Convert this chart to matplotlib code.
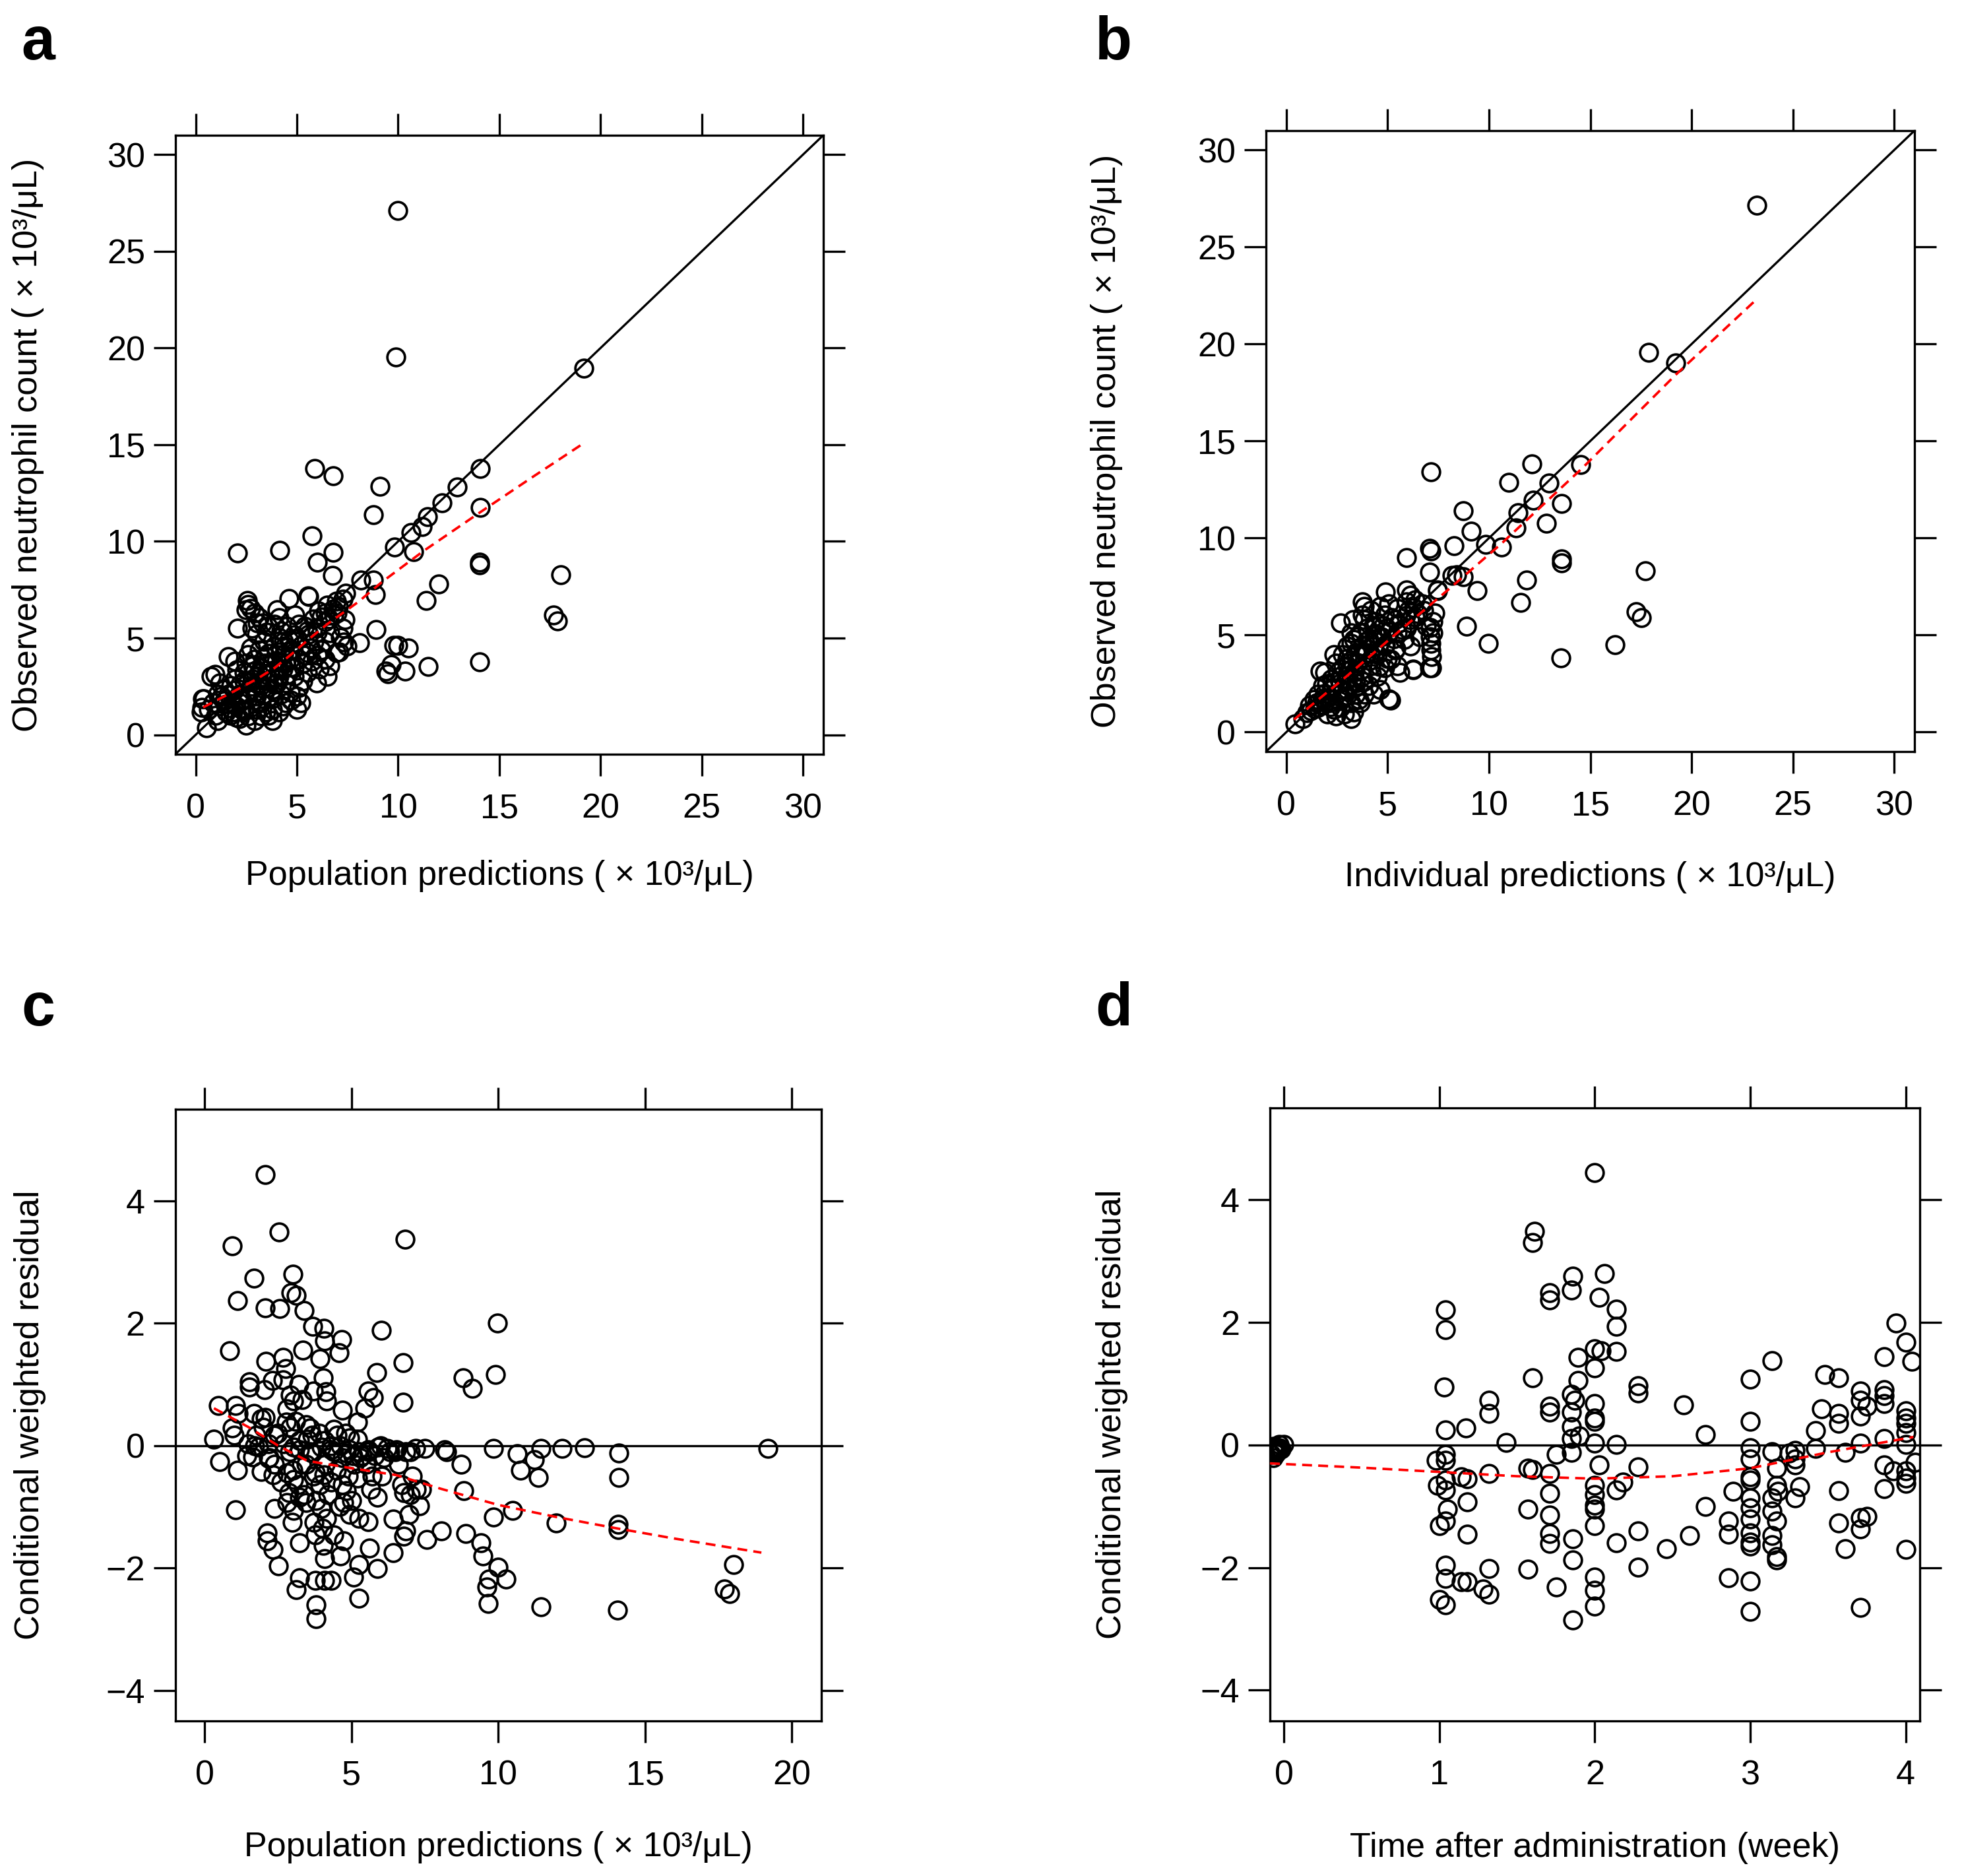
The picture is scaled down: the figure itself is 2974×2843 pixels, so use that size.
import matplotlib.pyplot as plt

plt.rcParams['font.family'] = ['Liberation Sans', 'DejaVu Sans']

# ---- data ----------------------------------------------------------------
# panel a: population predictions vs observed
a_pred = [9.99, 9.89, 19.17, 5.88, 6.80, 9.09, 14.07, 12.93, 12.18, 11.44,
          11.19, 10.64, 8.78, 14.07, 9.83, 10.76, 5.75, 2.07, 4.14, 6.80,
          6.00, 6.77, 14.04, 14.04, 18.03, 8.16, 8.78, 8.87, 12.00, 11.38,
          17.69, 17.87, 8.91, 8.10, 9.80, 9.99, 10.51, 9.65, 9.40, 9.49,
          10.33, 11.47, 14.04, 7.42, 7.27, 5.57, 4.61, 2.54, 2.07, 0.53,
          0.28, 0.34,
          2.60, 2.49, 2.71, 2.92, 3.14, 3.03, 3.30, 3.58, 4.01, 4.12,
          3.90, 4.23, 5.59, 6.08, 6.51, 6.95, 7.05, 6.84, 7.38, 7.27,
          7.16, 7.49, 6.95, 6.62, 6.51, 5.97, 5.53, 5.21, 4.99, 5.53,
          5.10, 4.88, 5.86, 6.19, 5.75, 5.32, 4.66, 4.34, 4.12, 3.90,
          3.36, 3.14, 2.71, 2.60, 2.92, 3.47, 3.79, 4.12, 4.45, 4.55,
          4.88, 5.10, 4.66, 4.45, 4.12, 3.79, 3.25, 2.92, 2.49, 2.16,
          1.84, 2.27, 2.71, 3.25, 3.79, 2.16, 1.73, 1.62, 1.95, 2.05,
          2.38, 2.38, 2.82, 3.14, 3.47, 3.58, 4.01, 4.23, 3.79, 3.36,
          2.92, 2.60, 0.97, 0.75, 1.18, 1.40, 1.08, 0.86, 0.42, 0.32,
          0.64, 1.08, 1.51, 1.40, 4.34, 4.66, 4.88, 4.12, 4.45, 4.99,
          3.68, 3.25, 2.82, 2.49, 1.95, 1.62, 2.16, 3.03, 3.47, 3.79,
          2.60, 5.53, 5.97, 6.40, 6.62, 6.40,
          1.2, 1.5, 1.7, 2.0, 2.3, 2.5, 2.8, 3.0, 3.3, 3.5,
          3.7, 3.9, 4.0, 4.2, 4.4, 4.6, 4.8, 5.0, 5.2, 5.4,
          5.6, 5.8, 6.0, 6.2, 6.4, 6.6, 6.8, 7.0, 3.1, 3.4,
          3.6, 2.9, 2.2, 1.9, 2.6, 4.3, 4.7, 5.1, 5.4, 5.7,
          3.0, 2.8, 3.5, 4.5, 4.9, 1.0, 1.3, 2.0, 3.6, 4.3,
          4.7, 5.3, 6.1, 6.4, 7.1, 7.3, 6.0, 3.9, 2.4, 1.7]
a_obs = [27.11, 19.54, 18.97, 13.77, 13.40, 12.86, 13.77, 12.80, 11.98, 11.28,
         10.76, 10.46, 11.37, 11.76, 9.70, 9.48, 10.30, 9.39, 9.54, 9.45,
         8.94, 8.24, 8.94, 8.78, 8.27, 8.02, 8.02, 7.26, 7.81, 6.96,
         6.20, 5.90, 5.44, 4.77, 4.62, 4.62, 4.50, 3.62, 3.31, 3.16,
         3.31, 3.53, 3.77, 7.33, 7.02, 7.17, 7.05, 6.96, 5.50, 0.36,
         1.19, 1.85,
         6.75, 6.47, 6.53, 6.30, 6.07, 5.79, 5.79, 5.62, 6.47, 6.07,
         5.73, 5.39, 7.15, 6.41, 6.70, 6.92, 6.64, 6.19, 5.96, 5.51,
         5.05, 4.60, 4.26, 3.58, 3.01, 2.67, 3.24, 1.65, 1.31, 5.39,
         5.73, 5.16, 4.82, 4.37, 3.80, 3.69, 4.37, 4.82, 5.05, 4.60,
         4.82, 4.37, 4.48, 4.14, 3.92, 4.03, 3.69, 3.35, 3.69, 3.12,
         3.01, 2.44, 2.21, 1.65, 1.19, 0.74, 0.96, 0.74, 0.51, 0.85,
         1.19, 1.31, 1.42, 1.65, 1.87, 2.10, 2.55, 4.03, 3.80, 3.35,
         3.24, 2.78, 2.89, 2.67, 3.12, 2.44, 2.67, 2.10, 2.33, 2.10,
         2.21, 1.87, 3.12, 3.01, 2.67, 2.33, 2.10, 1.65, 1.87, 1.42,
         1.31, 0.74, 1.19, 1.76, 4.14, 3.92, 3.46, 3.01, 2.67, 1.99,
         3.24, 3.46, 3.58, 3.69, 2.89, 2.10, 1.65, 1.31, 1.19, 1.31,
         0.96, 4.26, 5.51, 5.85, 5.28, 4.82,
         1.5, 1.6, 1.4, 1.5, 1.8, 2.2, 2.5, 2.0, 2.4, 2.8,
         2.0, 3.0, 3.8, 4.3, 4.6, 4.9, 4.4, 5.0, 4.6, 5.6,
         5.2, 6.0, 5.3, 6.1, 6.3, 6.0, 6.5, 6.3, 3.2, 3.7,
         4.2, 3.3, 2.6, 2.3, 2.8, 3.4, 3.5, 3.9, 4.1, 4.5,
         5.2, 5.5, 5.3, 5.6, 6.2, 1.0, 2.0, 0.9, 1.0, 1.5,
         1.8, 2.8, 3.4, 3.9, 4.3, 4.8, 4.1, 2.6, 1.2, 1.0]
a_smooth_x = [0.37, 1.73, 3.03, 3.90, 4.77, 5.64, 6.51, 7.27, 8.03, 9.20, 11.25, 14.10, 16.60, 19.20]
a_smooth_y = [1.42, 2.16, 2.89, 3.46, 4.20, 4.99, 5.73, 6.30, 6.87, 7.90, 9.50, 11.54, 13.30, 15.10]

# panel b: individual predictions vs observed
b_ipred = [23.22, 17.88, 19.21, 14.52, 12.12, 7.12, 10.98, 12.95, 12.18, 13.57,
           8.73, 11.44, 11.35, 12.83, 9.13, 9.84, 10.61, 8.29, 7.06, 7.12,
           5.92, 13.57, 13.57, 17.73, 7.06, 8.17, 8.42, 8.73, 11.87, 7.46,
           9.40, 11.56, 17.27, 17.51, 8.88, 9.96, 16.22, 13.54, 7.06, 6.26,
           5.15, 7.10, 7.10,
           0.43, 0.82, 1.14, 1.36, 1.58, 1.68, 1.90, 2.23, 2.55, 2.34,
           2.66, 3.21, 3.32, 3.75, 3.86, 3.75, 3.86, 3.97, 4.18, 4.89,
           5.92, 6.14, 5.92, 6.36, 7.45, 7.34, 7.23, 7.23, 7.12, 7.12,
           7.17, 7.17, 6.25, 5.60, 5.49, 5.05, 4.62, 4.29, 4.08, 3.21,
           3.32, 2.66, 2.34, 2.12, 2.77, 3.21, 2.99, 3.42, 3.75, 2.99,
           3.53, 4.18, 4.51, 4.84, 5.16, 5.38, 4.84, 4.40, 3.97, 3.75,
           4.08, 4.51, 4.95, 5.38, 5.49, 5.92, 6.36, 6.79, 6.90, 6.58,
           6.14, 5.82, 2.66, 2.23, 1.79, 1.58, 2.01, 2.45, 2.88, 3.64,
           3.86, 3.42, 2.99, 3.32, 2.45, 2.77, 3.42, 2.99, 3.21, 3.64,
           4.40, 4.84, 4.62, 5.49, 5.05, 6.03,
           1.0, 1.2, 1.5, 1.7, 1.9, 2.1, 2.3, 2.5, 2.7, 2.9,
           3.1, 3.3, 3.5, 3.7, 3.9, 4.1, 4.3, 4.5, 4.7, 4.9,
           5.1, 5.3, 5.5, 5.7, 5.9, 6.1, 6.3, 6.5, 6.7, 2.0,
           2.4, 2.8, 3.2, 3.6, 4.0, 4.4, 4.8, 5.2, 2.6, 3.0,
           3.4, 3.8, 4.2, 4.6, 5.0, 5.4, 1.4, 1.8, 2.2, 2.8,
           3.6, 3.0, 3.5, 4.3, 3.3]
b_obs = [27.15, 19.56, 19.01, 13.79, 13.82, 13.42, 12.88, 12.82, 11.96, 11.78,
         11.42, 11.30, 10.51, 10.75, 10.36, 9.69, 9.54, 9.60, 9.47, 9.32,
         8.99, 8.93, 8.72, 8.32, 8.26, 8.08, 8.11, 8.02, 7.83, 7.32,
         7.29, 6.68, 6.19, 5.89, 5.47, 4.59, 4.52, 3.83, 3.31, 3.25,
         1.64, 4.90, 5.40,
         0.42, 0.70, 1.38, 1.67, 1.95, 3.14, 3.09, 2.75, 3.09, 4.00,
         5.64, 4.56, 4.79, 6.72, 6.49, 6.04, 5.81, 5.36, 6.27, 7.23,
         7.34, 7.06, 6.72, 6.83, 7.29, 6.15, 5.70, 5.13, 4.56, 4.22,
         3.88, 3.31, 3.20, 3.09, 3.43, 1.73, 2.18, 1.95, 2.41, 0.70,
         1.04, 1.27, 1.16, 1.50, 1.73, 1.50, 2.18, 2.52, 2.86, 3.43,
         3.54, 3.43, 2.86, 3.31, 3.77, 4.22, 4.45, 4.11, 4.11, 4.45,
         4.79, 5.02, 5.36, 5.81, 5.13, 5.36, 5.93, 6.27, 5.47, 4.90,
         4.45, 4.79, 2.52, 2.18, 1.73, 1.27, 0.93, 0.82, 0.93, 1.50,
         1.95, 1.95, 2.75, 3.09, 3.54, 4.00, 4.11, 4.45, 5.13, 5.13,
         5.70, 6.04, 6.49, 6.38, 6.61, 6.27,
         1.0, 1.1, 1.5, 1.4, 2.0, 1.8, 2.3, 2.0, 2.9, 2.6,
         3.2, 2.8, 3.6, 3.2, 4.0, 3.7, 4.4, 4.0, 4.9, 4.5,
         5.2, 4.8, 5.6, 5.3, 6.0, 5.8, 6.4, 6.1, 6.6, 2.5,
         2.6, 3.4, 3.7, 4.1, 4.7, 5.1, 5.5, 5.9, 1.6, 1.9,
         2.3, 2.6, 3.0, 3.4, 3.8, 4.3, 1.2, 2.4, 1.3, 2.2,
         1.7, 3.8, 4.9, 5.5, 5.8]
b_smooth_x = [0.38, 3.0, 5.0, 8.0, 10.6, 14.6, 19.2, 23.13]
b_smooth_y = [0.65, 2.9, 4.7, 7.35, 9.7, 13.6, 18.4, 22.23]

# panel c: population predictions vs CWRES
c_pred = [2.07, 2.53, 6.82, 0.94, 1.68, 3.00, 2.94, 3.11, 1.11, 2.07,
          2.56, 3.39, 3.68, 4.07, 6.01, 9.97, 4.09, 4.66, 4.58, 3.34,
          3.94, 0.85, 2.09, 2.66, 2.77, 6.77, 5.86, 9.90, 8.80, 9.12,
          4.05, 1.53, 1.53, 2.32, 2.68, 2.04, 3.71, 4.13, 5.58, 5.75,
          2.92, 3.32, 3.02, 4.15, 6.77, 5.45, 4.69, 0.47, 1.06, 1.15,
          1.68, 1.92, 2.07, 5.22, 2.79, 2.92, 0.94, 1.02, 3.45, 3.60,
          4.41, 2.70, 0.32, 1.49, 1.85,
          3.98, 4.30, 4.62, 4.94, 5.26, 5.58, 5.90, 6.22, 6.54, 6.86,
          7.18, 7.50, 8.18, 8.24, 9.84, 10.65, 11.46, 12.18, 12.93, 14.10,
          19.19, 3.66, 3.24, 5.05, 4.83, 5.37, 5.79,
          2.39, 3.24, 3.66, 4.09, 4.52, 4.94, 1.75, 2.17, 3.02,
          0.51, 1.13, 1.43, 1.64, 1.92, 2.17, 2.39, 2.34, 2.81, 3.02,
          3.45, 3.77, 4.07, 4.30, 4.69, 5.20, 6.05, 7.07, 6.71, 7.22,
          7.39, 6.79, 5.88, 5.67, 4.83, 3.92, 3.19, 2.88, 3.24, 3.45,
          2.81, 3.02, 3.98, 4.15, 4.73, 4.94, 6.96, 7.31, 8.82, 8.73,
          10.76, 11.22, 11.37, 14.10, 2.39, 1.06, 2.98, 3.73, 4.03, 5.26,
          5.58, 6.43, 6.84, 6.79, 9.84, 10.48, 11.97, 14.08, 14.08, 7.56,
          8.07, 8.90, 9.41, 9.48, 2.13, 2.13, 2.34, 2.51, 3.24, 3.77,
          4.05, 4.41, 4.73, 4.62, 4.09, 5.62, 6.43, 5.26, 5.88, 5.07,
          3.24, 3.77, 4.09, 4.30, 3.11, 5.26, 3.79, 3.79, 9.99, 10.27,
          9.67, 9.61, 9.65, 11.46, 14.06, 18.02, 17.70, 17.87,
          2.5, 2.9, 3.1, 3.3, 3.5, 3.7, 3.9, 4.1, 4.3, 4.5,
          4.7, 4.9, 5.1, 5.3, 5.5, 5.7, 6.1, 6.3, 6.6, 7.0,
          2.2, 2.6, 3.4, 3.8, 4.2, 4.6, 5.0, 3.0, 2.0, 1.7,
          4.8, 5.2, 5.6, 6.0, 6.5, 7.0, 4.4, 3.6, 2.8, 3.2]
c_cwres = [4.43, 3.49, 3.37, 3.27, 2.74, 2.80, 2.50, 2.46, 2.37, 2.25,
           2.24, 2.21, 1.95, 1.92, 1.88, 2.00, 1.71, 1.73, 1.52, 1.56,
           1.42, 1.55, 1.38, 1.44, 1.26, 1.36, 1.19, 1.16, 1.11, 0.93,
           1.11, 1.04, 0.96, 1.06, 1.07, 0.91, 0.89, 0.88, 0.89, 0.78,
           0.83, 0.75, 0.73, 0.73, 0.71, 0.61, 0.58, 0.65, 0.65, 0.52,
           0.52, 0.44, 0.46, 0.39, 0.39, 0.30, 0.29, 0.17, 0.34, 0.29,
           0.27, 0.03, 0.10, 0.03, -0.02,
           -0.02, -0.07, 0.00, -0.07, -0.10, -0.07, -0.02, -0.05, -0.07, -0.10,
           -0.05, -0.05, -0.07, -0.10, -0.05, -0.13, -0.05, -0.05, -0.04, -0.12,
           -0.05, -0.12, -0.07, -0.16, -0.12, -0.16, -0.16,
           0.17, 0.08, 0.17, 0.08, 0.17, 0.13, 0.17, 0.03, -0.02,
           -0.26, -0.40, -0.16, -0.19, -0.42, -0.21, -0.31, -0.48, -0.45, -0.55,
           -0.31, -0.45, -0.48, -0.60, -0.64, -0.53, -0.50, -0.50, -0.64, -0.71,
           -0.71, -0.77, -0.84, -0.71, -0.74, -0.64, -0.64, -0.77, -0.84, -0.93,
           -0.93, -1.06, -1.03, -1.19, -0.93, -1.13, -1.13, -0.98, -0.74, -0.31,
           -0.40, -0.23, -0.52, -0.52, -1.03, -1.05, -1.25, -1.25, -1.35, -1.19,
           -1.24, -1.20, -1.39, -1.48, -1.17, -1.06, -1.27, -1.29, -1.37, -1.54,
           -1.39, -1.44, -1.59, -1.80, -1.43, -1.56, -1.70, -1.97, -1.59, -1.46,
           -1.63, -1.46, -1.56, -1.80, -1.85, -1.68, -1.75, -1.94, -2.01, -2.15,
           -2.16, -2.20, -2.20, -2.20, -2.35, -2.50, -2.60, -2.83, -1.99, -2.18,
           -2.18, -2.31, -2.58, -2.63, -2.69, -1.94, -2.34, -2.42,
           0.2, -0.1, 0.4, -0.3, 0.1, -0.5, 0.2, -0.3, 0.0, -0.4,
           -0.2, -0.5, -0.3, -0.2, -0.3, -0.5, -0.2, -0.1, -0.3, -0.8,
           -0.2, -0.6, -0.8, -0.9, -0.8, -1.0, -0.9, -0.4, 0.3, 0.0,
           0.2, 0.1, -0.1, 0.0, -0.1, -0.1, -0.1, -0.1, 0.6, 1.0]
c_smooth_x = [0.32, 1.5, 2.5, 3.5, 5.0, 6.5, 8.0, 10.0, 12.0, 14.0, 16.0, 18.96]
c_smooth_y = [0.61, 0.30, 0.00, -0.25, -0.37, -0.48, -0.70, -0.97, -1.17, -1.35, -1.52, -1.75]

# panel d: time after administration vs CWRES
d_time = [-0.07, -0.06, -0.05, -0.04, -0.03, 0.00, -0.08, -0.07, -0.06, -0.05,
          -0.04, -0.03, -0.02, -0.07, -0.06,
          2.00, 1.61, 1.60, 1.86, 1.85, 2.06, 1.71, 1.71, 2.03, 2.14,
          2.14, 1.04, 1.04, 3.94, 4.00, 4.04, 2.00, 2.04, 2.14, 1.89,
          3.14, 3.86, 2.00, 3.48, 3.57, 1.60, 3.00, 1.89, 1.03, 2.28,
          2.28, 3.71, 3.71, 3.86, 3.86, 3.86, 1.85, 1.87, 1.85, 1.32,
          1.32, 2.00, 1.71, 1.71, 2.57, 3.46, 3.57, 3.57, 3.75, 3.71,
          4.00, 4.00, 4.00, 2.00, 2.00, 3.00, 1.04, 1.17, 1.85, 1.90,
          1.85, 2.71, 3.42, 3.86, 4.00, 1.43, 2.00, 2.14, 3.71, 4.00,
          3.00, 3.42, 3.14, 3.29, 3.25, 3.61, 1.85, 1.75, 1.04, 0.98,
          3.00, 3.29, 3.29, 4.06, 3.86, 1.57, 1.60, 2.03, 2.28, 3.17,
          3.92, 1.04, 1.71, 1.32, 3.00, 3.00, 1.14, 1.18, 1.04, 4.00,
          4.00, 4.00, 2.18, 0.99, 1.04, 3.17, 3.32, 2.00, 3.18, 2.14,
          3.57, 1.71, 2.89, 3.86, 2.00, 3.00, 3.14, 3.29, 1.18, 2.00,
          2.00, 3.00, 2.71, 1.57, 1.05, 3.14, 1.71, 3.71, 3.75, 3.00,
          3.17, 1.04, 3.57, 2.86, 1.00, 2.00, 3.71, 1.18, 1.71, 2.28,
          2.86, 3.00, 3.00, 2.61, 3.14, 3.14, 1.86, 3.00, 1.71, 2.14,
          2.46, 3.61, 4.00, 3.17, 3.17, 1.86, 1.04, 1.32, 1.57, 2.28,
          2.00, 1.04, 1.14, 1.18, 2.86, 3.00, 1.75, 2.00, 1.28, 1.32,
          1.00, 1.04, 2.00, 3.71, 3.00, 1.86]
d_cwres = [-0.02, -0.09, -0.14, -0.06, 0.01, 0.01, -0.15, -0.21, -0.12, -0.03,
           -0.10, -0.05, -0.07, -0.08, -0.04,
           4.44, 3.49, 3.30, 2.75, 2.53, 2.80, 2.48, 2.37, 2.41, 2.22,
           1.94, 2.20, 1.88, 1.99, 1.68, 1.36, 1.57, 1.54, 1.53, 1.43,
           1.38, 1.44, 1.26, 1.15, 1.10, 1.10, 1.07, 1.05, 0.94, 0.97,
           0.85, 0.88, 0.73, 0.90, 0.81, 0.68, 0.83, 0.73, 0.54, 0.73,
           0.51, 0.68, 0.63, 0.54, 0.65, 0.59, 0.51, 0.35, 0.63, 0.47,
           0.56, 0.44, 0.35, 0.44, 0.39, 0.38, 0.25, 0.28, 0.30, 0.15,
           0.11, 0.17, 0.23, 0.11, 0.20, 0.04, 0.03, 0.01, 0.03, 0.01,
           -0.04, -0.06, -0.11, -0.09, -0.13, -0.12, -0.12, -0.15, -0.15, -0.25,
           -0.23, -0.23, -0.33, -0.28, -0.33, -0.38, -0.40, -0.33, -0.36, -0.38,
           -0.42, -0.25, -0.47, -0.47, -0.52, -0.57, -0.52, -0.55, -0.57, -0.42,
           -0.54, -0.63, -0.60, -0.66, -0.73, -0.66, -0.68, -0.66, -0.76, -0.73,
           -0.74, -0.79, -0.76, -0.71, -0.81, -0.86, -0.86, -0.86, -0.93, -0.98,
           -1.05, -1.03, -1.00, -1.05, -1.05, -1.08, -1.14, -1.19, -1.16, -1.21,
           -1.24, -1.24, -1.27, -1.24, -1.31, -1.31, -1.37, -1.45, -1.44, -1.40,
           -1.45, -1.43, -1.58, -1.48, -1.48, -1.63, -1.53, -1.65, -1.61, -1.60,
           -1.69, -1.69, -1.70, -1.82, -1.87, -1.88, -1.96, -2.01, -2.03, -1.99,
           -2.15, -2.18, -2.23, -2.23, -2.17, -2.22, -2.32, -2.37, -2.35, -2.44,
           -2.52, -2.61, -2.63, -2.65, -2.71, -2.85]
d_smooth_x = [-0.09, 0.5, 1.0, 1.5, 2.0, 2.5, 3.0, 3.5, 4.05]
d_smooth_y = [-0.30, -0.37, -0.44, -0.51, -0.55, -0.51, -0.38, -0.12, 0.13]

UNIT = ' ( \u00d7 10\u00b3/\u03bcL)'

# ---- figure ---------------------------------------------------------------
fig = plt.figure(figsize=(2974 / 300, 2843 / 300), dpi=300)

LW = 0.8
FS = 12.5


def panel(rect, x, y, sx, sy, xlim, ylim, xticks, yticks, xlabel, ylabel,
          xl_off, yl_off, ref):
    ax = fig.add_axes(rect)
    if ref == 'diag':
        ax.plot(xlim, ylim, color='black', lw=LW, zorder=1)
    else:
        ax.axhline(0, color='black', lw=LW, zorder=1)
    ax.plot(x, y, 'o', mfc='none', mec='black', ms=6.4, mew=0.9, zorder=2)
    ax.plot(sx, sy, color='#ff0000', lw=0.9, dashes=(4.0, 2.5), zorder=3)
    ax.set_xlim(xlim)
    ax.set_ylim(ylim)
    ax.set_xticks(xticks)
    ax.set_yticks(yticks)
    ax.tick_params(direction='out', length=8, width=LW, top=True, right=True,
                   labelsize=FS, colors='black')
    ax.tick_params(axis='x', pad=6)
    ax.tick_params(axis='y', pad=3)
    for s in ax.spines.values():
        s.set_linewidth(LW)
    ax.text(0.5, xl_off, xlabel, transform=ax.transAxes, ha='center',
            va='center', fontsize=FS)
    ax.text(yl_off, 0.5, ylabel, transform=ax.transAxes, ha='center',
            va='center', rotation=90, fontsize=FS)
    return ax


obs_label = 'Observed neutrophil count' + UNIT
cw_label = 'Conditional weighted residual'
t30 = [0, 5, 10, 15, 20, 25, 30]

panel([0.0894, 0.5980, 0.3302, 0.3299], a_pred, a_obs, a_smooth_x, a_smooth_y,
      (-1, 31), (-1, 31), t30, t30, 'Population predictions' + UNIT, obs_label,
      -0.197, -0.227, 'diag')
panel([0.6453, 0.5994, 0.3305, 0.3310], b_ipred, b_obs, b_smooth_x, b_smooth_y,
      (-1, 31), (-1, 31), t30, t30, 'Individual predictions' + UNIT, obs_label,
      -0.203, -0.246, 'diag')
panel([0.0893, 0.0827, 0.3293, 0.3261], c_pred, c_cwres, c_smooth_x, c_smooth_y,
      (-1, 21), (-4.5, 5.5), [0, 5, 10, 15, 20], [-4, -2, 0, 2, 4],
      'Population predictions' + UNIT, cw_label, -0.207, -0.225, 'zero')
panel([0.6473, 0.0827, 0.3311, 0.3268], d_time, d_cwres, d_smooth_x, d_smooth_y,
      (-0.09, 4.09), (-4.5, 5.5), [0, 1, 2, 3, 4], [-4, -2, 0, 2, 4],
      'Time after administration (week)', cw_label, -0.207, -0.243, 'zero')

# panel letters
for lx, ly, lab in [(32, 90, 'a'), (1660, 90, 'b'), (32, 1554, 'c'), (1660, 1554, 'd')]:
    fig.text(lx / 2974, 1 - ly / 2843, lab, fontsize=22, fontweight='bold',
             ha='left', va='baseline')

fig.savefig('out.png', dpi=300, facecolor='white')
